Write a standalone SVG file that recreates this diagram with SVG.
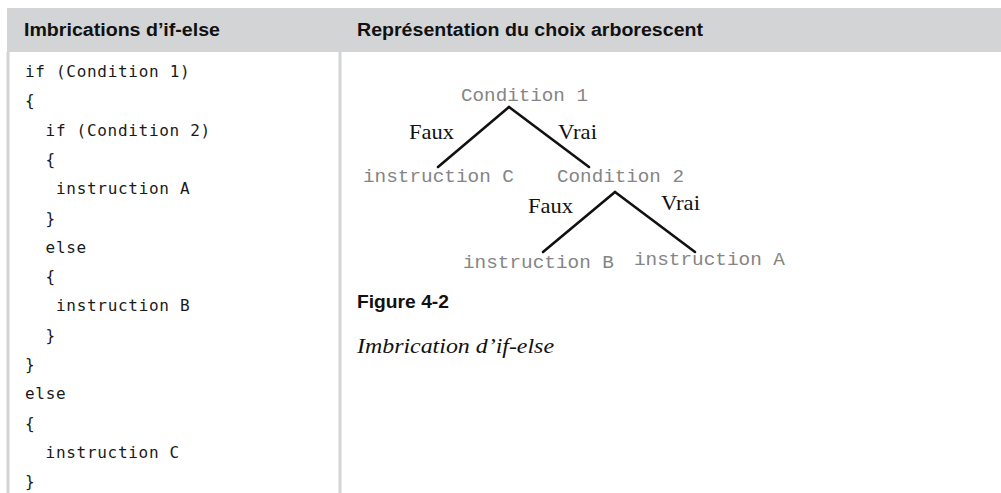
<svg xmlns="http://www.w3.org/2000/svg" width="1001" height="493" viewBox="0 0 1001 493">
  <style>
    .head { font-family: "Liberation Sans", Arial, sans-serif; font-weight: bold; font-size: 18px; fill: #111; }
    .code { font-family: "DejaVu Sans Mono", "Liberation Mono", monospace; font-size: 16px; letter-spacing: 0.7px; fill: #1a1a1a; }
    .node { font-family: "Liberation Mono", "Courier New", monospace; font-size: 19px; fill: #858585; }
    .lbl { font-family: "Liberation Serif", "Times New Roman", serif; font-size: 22px; fill: #111; }
    .edge { stroke: #111; stroke-width: 2.6; stroke-linecap: round; fill: none; }
    .rule { stroke: #d3d4d6; stroke-width: 3; }
    .fig { font-family: "Liberation Sans", Arial, sans-serif; font-weight: bold; font-size: 19px; fill: #111; }
    .cap { font-family: "Liberation Serif", "Times New Roman", serif; font-style: italic; font-size: 22px; fill: #111; }
  </style>

  <rect width="1001" height="493" fill="#ffffff"/>

  <!-- table frame -->
  <g id="table">
    <rect x="7" y="8" width="994" height="44" fill="#d3d4d6"/>
    <line class="rule" x1="8" y1="52" x2="8" y2="493"/>
    <line class="rule" x1="340" y1="52" x2="340" y2="493"/>
    <text class="head" x="24" y="36" textLength="196" lengthAdjust="spacingAndGlyphs">Imbrications d’if-else</text>
    <text class="head" x="357" y="36" textLength="346" lengthAdjust="spacingAndGlyphs">Représentation du choix arborescent</text>
  </g>

  <!-- nested if-else listing -->
  <g id="listing" class="code">
    <text x="25" y="77">if (Condition 1)</text>
    <text x="25" y="106.3">{</text>
    <text x="45.6" y="135.6">if (Condition 2)</text>
    <text x="45.6" y="164.9">{</text>
    <text x="56" y="194.2">instruction A</text>
    <text x="45.6" y="223.5">}</text>
    <text x="45.6" y="252.8">else</text>
    <text x="45.6" y="282.1">{</text>
    <text x="56" y="311.4">instruction B</text>
    <text x="45.6" y="340.7">}</text>
    <text x="25" y="370">}</text>
    <text x="25" y="399.3">else</text>
    <text x="25" y="428.6">{</text>
    <text x="45.6" y="457.9">instruction C</text>
    <text x="25" y="487.2">}</text>
  </g>

  <!-- decision tree connectors -->
  <g id="connectors">
    <line class="edge" x1="509" y1="107" x2="438" y2="167"/>
    <line class="edge" x1="509" y1="107" x2="589" y2="167"/>
    <line class="edge" x1="615" y1="192" x2="543" y2="252"/>
    <line class="edge" x1="615" y1="192" x2="695" y2="252"/>
    <text class="lbl" x="409" y="139" textLength="45" lengthAdjust="spacingAndGlyphs">Faux</text>
    <text class="lbl" x="558" y="139" textLength="39" lengthAdjust="spacingAndGlyphs">Vrai</text>
    <text class="lbl" x="528" y="213" textLength="45" lengthAdjust="spacingAndGlyphs">Faux</text>
    <text class="lbl" x="661" y="210" textLength="39" lengthAdjust="spacingAndGlyphs">Vrai</text>
  </g>

  <g id="condition1"><text class="node" x="461" y="101" textLength="127" lengthAdjust="spacingAndGlyphs">Condition 1</text></g>
  <g id="instructionC"><text class="node" x="363" y="182" textLength="151" lengthAdjust="spacingAndGlyphs">instruction C</text></g>
  <g id="condition2"><text class="node" x="557" y="182" textLength="127" lengthAdjust="spacingAndGlyphs">Condition 2</text></g>
  <g id="instructionB"><text class="node" x="463" y="268" textLength="151" lengthAdjust="spacingAndGlyphs">instruction B</text></g>
  <g id="instructionA"><text class="node" x="634" y="265" textLength="151" lengthAdjust="spacingAndGlyphs">instruction A</text></g>

  <!-- figure caption -->
  <g id="caption">
    <text class="fig" x="357" y="308" textLength="92" lengthAdjust="spacingAndGlyphs">Figure 4-2</text>
    <text class="cap" x="357" y="353" textLength="197" lengthAdjust="spacingAndGlyphs">Imbrication d’if-else</text>
  </g>
</svg>
